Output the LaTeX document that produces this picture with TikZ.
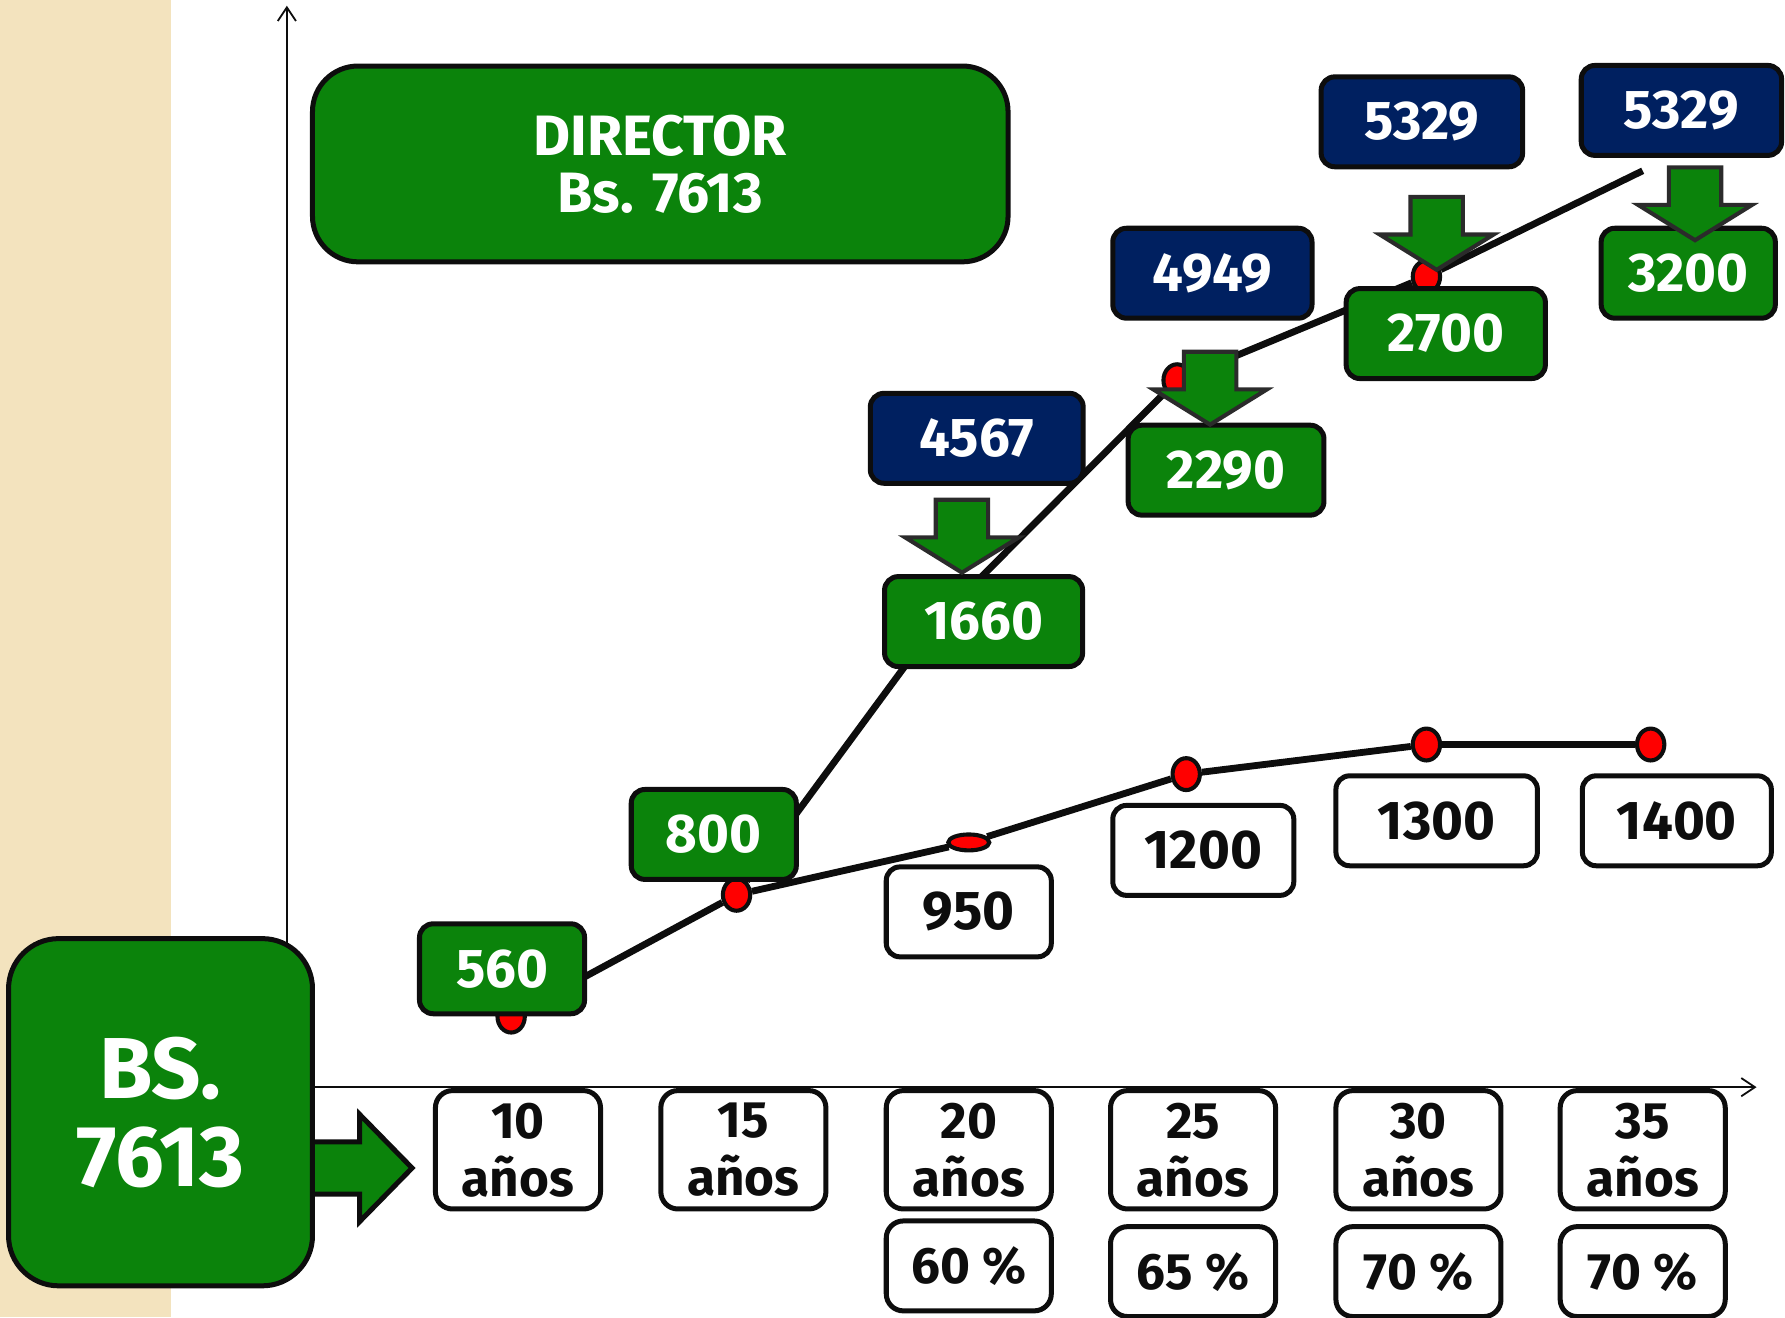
\documentclass[tikz,border=0pt]{standalone}
\usepackage{fontspec}
\setmainfont{Fira Sans}
\usepackage{tikz}
\usetikzlibrary{calc}
\usetikzlibrary{arrows.meta}
\usetikzlibrary{shapes.geometric}

\definecolor{grn}{HTML}{0B830B}
\definecolor{navy}{HTML}{002060}
\definecolor{beige}{HTML}{F3E3BE}
\definecolor{ink}{HTML}{0D0D0D}
\definecolor{arrowrim}{HTML}{2B2B2B}

\newcommand{\numfont}{\fontsize{24}{28}\selectfont\bfseries}
\newcommand{\yrfont}{\fontsize{22.5}{25.5}\selectfont\bfseries}

\begin{document}
\begin{tikzpicture}[
        x=0.5pt, y=-0.5pt,
        every node/.style={draw=ink,line width=2.2pt,rounded corners=6pt,inner sep=0pt,align=center},
        val/.style={minimum width=72.5pt,minimum height=39.5pt,font=\numfont},
        grnval/.style={val,fill=grn,text=white},
        navyval/.style={val,fill=navy,text=white},
        whiteval/.style={val,fill=white,text=ink},
        yrbox/.style={fill=white,text=ink,minimum width=72.5pt,minimum height=52pt,font=\yrfont,rounded corners=7.5pt},
        pctbox/.style={yrbox,minimum height=39.5pt},
        reddot/.style={ellipse,fill=red,line width=1.8pt,minimum width=12pt,minimum height=14pt},
        trend/.style={draw=ink,line width=3pt},
        axisline/.style={draw=ink,line width=0.8pt,-{Straight Barb[length=6pt,width=8pt]}},
        fatarrow/.style={fill=grn,draw=arrowrim,line width=1.8pt},
        >=Latex
    ]
        \fill[beige] (0,0) rectangle (150,1157);
        \useasboundingbox (0,0) rectangle (1568,1157);

        \coordinate (origin) at (252,955);
        \draw[axisline] (origin) -- (252,5);
        \draw[axisline] (origin) -- (1543,955);

        \node[reddot] (d10) at (449,893) {};
        \node[reddot] (d15) at (647,786) {};
        \node[reddot,minimum width=18pt,minimum height=7pt] (d20) at (851,740) {};
        \node[reddot] (d25) at (1042,680) {};
        \node[reddot] (d30) at (1253,654) {};
        \node[reddot] (d35) at (1450,654) {};
        \coordinate (c20) at (826,543);
        \node[reddot] (u25) at (1034,334) {};
        \node[reddot] (u30) at (1253,243) {};
        \coordinate (cend) at (1443,150);

        \draw[trend] (d10) -- (d15) -- (d20) -- (d25) -- (d30) -- (d35);
        \draw[trend] (d15) -- (c20) -- (u25) -- (u30) -- (cend);

        \node[grnval] (g560) at (441,851) {560};
        \node[grnval] (g800) at (627,733) {800};
        \node[grnval,minimum width=87pt] (g1660) at (864,546) {1660};
        \node[grnval,minimum width=86pt] (g2290) at (1077,413) {2290};
        \node[grnval,minimum width=87.5pt] (g2700) at (1270,293) {2700};
        \node[grnval,minimum width=76.5pt] (g3200) at (1483,240) {3200};

        \node[navyval,minimum width=93.5pt] (n4567) at (858,385) {4567};
        \node[navyval,minimum width=87.5pt] (n4949) at (1065,240) {4949};
        \node[navyval,minimum width=88.5pt] (n5329a) at (1249,107) {5329};
        \node[navyval,minimum width=88pt] (n5329b) at (1477,97) {5329};

        \node[whiteval] (w950) at (851,801) {950};
        \node[whiteval,minimum width=79.5pt] (w1200) at (1057,747) {1200};
        \node[whiteval,minimum width=88.5pt] (w1300) at (1262,721) {1300};
        \node[whiteval,minimum width=83pt] (w1400) at (1473,721) {1400};

        \foreach \yr/\xx in {10/455,15/653,20/851,25/1048,30/1246,35/1443}
            \node[yrbox] (y\yr) at (\xx,1010) {\yr\\años};

        \node[pctbox] (p20) at (851,1112) {60 \%};
        \node[pctbox] (p25) at (1048,1117) {65 \%};
        \node[pctbox] (p30) at (1246,1117) {70 \%};
        \node[pctbox] (p35) at (1443,1117) {70 \%};

        \node[fill=grn,text=white,minimum width=305.5pt,minimum height=86pt,rounded corners=20pt,
            font=\fontsize{25}{25}\selectfont\bfseries] (dir) at (580,144) {DIRECTOR\\Bs. 7613};

        \foreach \tx/\ty in {845/503,1063/373,1262/237,1489/211}
            \draw[fatarrow] (\tx,\ty) -- ++(-50,-31) -- ++(27,0) -- ++(0,-33) -- ++(46,0) -- ++(0,33) -- ++(27,0) -- cycle;

        \draw[fatarrow,draw=ink,line width=2.2pt] (262,1003) -- (316,1003) -- (316,979) -- (362,1026) -- (316,1073) -- (316,1049) -- (262,1049);
        \node[fill=grn,text=white,minimum width=133.5pt,minimum height=152.5pt,rounded corners=22pt,
            font=\fontsize{38}{38.5}\selectfont\bfseries] (bs) at (141,977) {BS.\\7613};
    \end{tikzpicture}
\end{document}
